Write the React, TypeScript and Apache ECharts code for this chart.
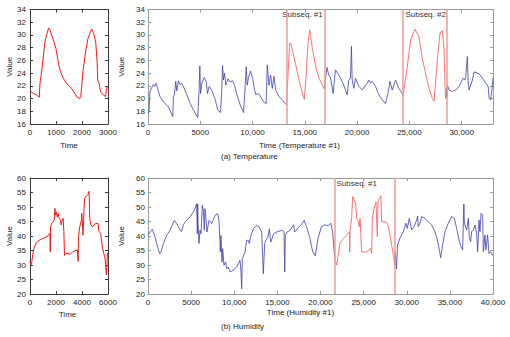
import React, { useEffect, useRef } from "react";
import * as echarts from "echarts";

type P = [number, number];

// ---- Temperature (a) ----
const tempSubseq: P[] = [
  [0, 21.2], [128, 20.8], [255, 20.55], [358, 20.2], [383, 22.4], [447, 24.2], [511, 26.6], [575, 28.9],
  [639, 30.0], [715, 31.1], [766, 30.8], [830, 30.0], [894, 29.3], [996, 27.9], [1085, 25.8], [1150, 24.5],
  [1277, 23.2], [1405, 22.4], [1596, 21.6], [1724, 20.8], [1813, 20.2], [1916, 20.0], [1954, 20.3],
  [2043, 24.5], [2145, 27.6], [2235, 29.5], [2324, 30.5], [2375, 30.9], [2452, 30.2], [2528, 28.9],
  [2580, 25.8], [2605, 22.9], [2656, 22.4], [2707, 21.2], [2758, 20.8], [2835, 20.55], [2912, 20.3],
  [2937, 21.6], [3000, 21.9],
];

const tempBlueA: P[] = [
  [0, 17.7], [100, 17.9], [190, 21.1], [350, 21.7], [510, 22.2], [610, 21.9], [770, 22.4], [930, 21.5],
  [1150, 20.3], [1470, 19.5], [1950, 18.7], [2370, 17.15],
  [2430, 20.3], [2530, 20.6], [2650, 22.7], [2750, 21.2], [2910, 22.8], [3070, 22.2], [3230, 22.4],
  [3390, 21.9], [3710, 20.6], [4030, 19.25], [4350, 18.2], [4760, 17.0],
  [4890, 21.6], [4960, 25.1], [5020, 20.8], [5150, 22.4], [5370, 23.3], [5560, 22.7], [5690, 20.8],
  [5850, 21.9], [6100, 21.3], [6430, 19.8], [6680, 18.2], [6940, 17.8],
  [7060, 21.6], [7130, 25.2], [7220, 22.9], [7320, 24.0], [7450, 22.1], [7640, 23.1], [7860, 22.6],
  [8090, 22.8], [8280, 22.1], [8500, 20.6], [8820, 19.0], [9140, 17.8],
  [9300, 22.1], [9400, 25.0], [9490, 22.1], [9620, 23.4], [9810, 24.3], [10000, 23.2], [10200, 21.3],
  [10320, 20.6], [10580, 20.8], [11060, 19.5], [11300, 19.2],
  [11410, 25.3], [11570, 22.1], [11730, 23.7], [11890, 21.6], [12050, 23.5], [12210, 21.35],
  [12530, 20.3], [12850, 19.8], [13170, 19.1], [13260, 19.0],
];

const tempRedA: P[] = [
  [13260, 19.2], [13400, 24.0], [13550, 28.7], [13680, 28.6], [13810, 27.6], [14130, 25.3], [14450, 22.9],
  [14770, 20.8], [14960, 19.9], [15150, 24.2], [15310, 28.9], [15470, 30.8], [15720, 27.9], [16040, 25.0],
  [16360, 23.2], [16680, 22.1], [16870, 21.5],
];

const tempBlueB: P[] = [
  [16870, 21.5], [16970, 23.2], [17130, 24.9], [17290, 23.6], [17450, 23.4], [17710, 20.8], [17930, 24.5],
  [18250, 23.7], [18570, 22.7], [18890, 21.35], [19050, 20.6], [19210, 22.9], [19370, 23.2], [19460, 28.2],
  [19530, 22.9], [19690, 21.6], [19850, 23.2], [20170, 21.9], [20490, 21.35], [20970, 22.4], [21130, 22.9],
  [21290, 22.4], [21450, 22.7], [21760, 21.9], [22080, 20.6], [22400, 19.8], [22720, 19.2], [22820, 20.0],
  [22950, 20.8], [23140, 22.7], [23360, 21.35], [23680, 22.9], [24000, 21.6], [24320, 20.8], [24380, 20.3],
];

const tempRedB: P[] = [
  [24390, 20.3], [24800, 25.0], [25120, 29.2], [25540, 30.9], [25920, 29.7], [26240, 26.3], [26560, 23.9],
  [26880, 21.6], [27200, 20.0], [27360, 19.6], [27680, 26.1], [27930, 30.3], [28160, 30.7], [28320, 27.6],
  [28410, 21.9], [28480, 20.0], [28540, 21.0],
];

const tempBlueC: P[] = [
  [28540, 21.6], [28580, 20.2], [28640, 22.1], [28800, 21.35], [29120, 21.1], [29440, 21.35], [29750, 21.9],
  [29910, 22.4], [30140, 23.2], [30300, 22.9], [30390, 23.4], [30550, 26.6], [30620, 22.9], [30710, 21.35],
  [31030, 22.9], [31190, 24.2], [31670, 23.9], [31990, 23.2], [32310, 22.4], [32540, 21.9], [32630, 20.0],
  [32790, 19.8], [32890, 21.35], [33000, 23.2],
];

const tempBounds: number[] = [13260, 16870, 24380, 28540];
const tempLabels: string[] = ["Subseq. #1", "Subseq. #2"];

// ---- Humidity (b) ----
const humSubseq: P[] = [
  [0, 31.2], [77, 30.1], [128, 30.6], [204, 33.5], [306, 35.8], [460, 37.5], [638, 38.3], [894, 39.0],
  [1150, 39.4], [1404, 40.1], [1532, 40.9], [1557, 34.6], [1583, 43.2], [1660, 44.3], [1787, 44.9],
  [1864, 45.5], [1915, 49.5], [1966, 47.2], [2042, 48.3], [2093, 46.6], [2170, 47.8], [2247, 46.1],
  [2349, 45.5], [2400, 43.8], [2476, 45.5], [2553, 46.1], [2604, 41.5], [2655, 33.3], [2808, 34.1],
  [3064, 33.7], [3268, 34.4], [3447, 34.9], [3651, 35.2], [3702, 31.2], [3727, 39.8], [3830, 43.2],
  [3957, 45.5], [3983, 47.8], [4085, 40.3], [4187, 52.9], [4340, 53.8], [4468, 54.3], [4545, 55.4],
  [4596, 46.1], [4672, 43.8], [4851, 43.2], [5030, 44.3], [5234, 44.3], [5310, 41.5], [5438, 40.9],
  [5540, 36.9], [5668, 34.1], [5770, 32.3], [5821, 30.1], [5872, 26.6], [5923, 30.1], [5948, 34.1],
  [6000, 33.5],
];

const humBlueA: P[] = [
  [0, 40.2], [230, 41.4], [500, 42.3], [810, 39.7], [1120, 36.2], [1350, 33.9], [1510, 34.5], [1780, 37.4],
  [2160, 40.2], [2550, 42.0], [3050, 45.4], [3320, 44.3], [3710, 42.0], [3900, 41.6], [4100, 43.9],
  [4370, 45.1], [4870, 46.6], [5370, 48.9], [5640, 51.1], [5720, 40.8], [5760, 51.1], [5800, 44.8],
  [5910, 37.4], [6030, 42.0], [6150, 40.8], [6300, 50.6], [6420, 48.9], [6530, 42.0], [6610, 49.4],
  [6720, 46.0], [6840, 41.4], [7070, 45.4], [7380, 44.3], [7770, 47.1], [8080, 47.7], [8230, 45.4],
  [8390, 34.5], [8460, 40.2], [8580, 31.0], [8660, 35.6], [8810, 29.9], [9000, 31.0], [9120, 28.7],
  [9310, 29.3], [9510, 27.6], [9890, 28.2], [10280, 29.3], [10670, 31.6], [10780, 27.6], [10860, 21.8],
  [10940, 32.2], [11250, 34.5], [11440, 38.5], [11630, 38.5], [11750, 37.4], [11940, 40.2], [12210, 42.5],
  [12600, 43.7], [12870, 43.1], [13180, 41.4], [13370, 27.0], [13530, 37.4], [13680, 38.5], [13910, 39.7],
  [14070, 42.5], [14220, 37.9], [14380, 39.1], [14570, 40.8], [14960, 41.4], [15540, 42.0], [15770, 41.4],
  [15850, 27.6], [15920, 40.2], [16120, 41.4], [16500, 42.0], [16700, 43.1], [16890, 43.9], [17000, 41.4],
  [17200, 42.0], [17470, 43.1], [17780, 43.9], [18100, 45.4], [18400, 43.0], [18750, 39.5], [19100, 34.5],
  [19400, 33.2], [19700, 39.0], [20100, 43.2], [20500, 43.8], [20900, 43.6], [21200, 44.4], [21400, 41.5],
  [21560, 35.7], [21650, 32.5],
];

const humRed: P[] = [
  [21650, 32.5], [21870, 30.0], [22260, 37.5], [22650, 39.2], [23030, 40.3], [23370, 41.5], [23385, 34.5],
  [23420, 41.5], [23610, 46.1], [23730, 53.6], [23920, 52.4], [24080, 51.3], [24190, 46.1], [24390, 44.9],
  [24500, 43.2], [24580, 46.1], [24690, 39.2], [24770, 34.6], [25160, 34.4], [25540, 34.8], [25820, 35.7],
  [25930, 34.0], [26010, 46.1], [26200, 49.5], [26430, 51.8], [26590, 39.8], [26670, 51.8], [26820, 53.0],
  [27010, 53.9], [27090, 44.9], [27480, 44.9], [27750, 44.4], [27980, 41.5], [28250, 36.9], [28440, 33.4],
  [28600, 30.0],
];

const humBlueB: P[] = [
  [28600, 30.0], [28680, 34.6], [28800, 28.7], [28940, 36.9], [29210, 39.2], [29600, 41.5], [29910, 44.4],
  [30060, 42.6], [30300, 46.1], [30570, 42.1], [30840, 43.2], [31150, 45.5], [31260, 46.9], [31340, 43.2],
  [31530, 44.4], [31730, 46.7], [32110, 46.1], [32500, 44.9], [32890, 43.8], [33270, 41.5], [33550, 38.6],
  [33780, 35.2], [33930, 32.5], [34160, 36.9], [34430, 41.5], [34820, 44.4], [35200, 46.7], [35510, 46.1],
  [35790, 42.6], [36060, 38.6], [36290, 36.3], [36480, 35.2], [36620, 51.0], [36680, 44.4], [36750, 43.8],
  [36950, 42.1], [37140, 46.1], [37260, 39.2], [37410, 38.0], [37530, 41.5], [37720, 42.1], [37910, 43.8],
  [38100, 41.0], [38220, 34.6], [38380, 45.5], [38490, 41.5], [38610, 47.8], [38800, 47.2], [38880, 34.6],
  [39070, 40.3], [39190, 35.2], [39380, 40.3], [39530, 34.0], [39720, 34.6], [39920, 33.4], [40000, 33.6],
];

const humBounds: number[] = [21650, 28600];
const humLabels: string[] = ["Subseq. #1"];

const captions: string[] = ["(a) Temperature", "(b) Humidity"];

const FONT = '"Liberation Sans", Arial, Helvetica, sans-serif';
const TXT = "#222";
const BLUE = "#3d3daa";
const RED_R = "#f06868";
const RED_L = "#f01a1a";
const SUB = "#f29a92";

const plainFmt = (v: number) => String(v);
const commaFmt = (v: number) => {
  if (v % 5000 !== 0) return "";
  return v >= 10000 ? v.toLocaleString("en-US") : String(v);
};

function tick(color: string) {
  return { show: true, inside: true, length: 3, lineStyle: { color, width: 1 } };
}

function xPair(gi: number, min: number, max: number, interval: number, color: string, fmt: any,
  name: string, nameGap: number, namePad: number[]) {
  const base = {
    type: "value", gridIndex: gi, min, max, interval, splitLine: { show: false },
    axisLine: { show: true, onZero: false, lineStyle: { color, width: 1 } }, axisTick: tick(color),
  };
  return [
    {
      ...base, position: "bottom",
      axisLabel: { show: true, margin: 4, color: TXT, fontSize: 8, fontFamily: FONT, formatter: fmt },
      name, nameLocation: "middle", nameGap,
      nameTextStyle: { color: TXT, fontSize: 8, fontFamily: FONT, padding: namePad },
    },
    { ...base, position: "top", axisLabel: { show: false } },
  ];
}

function yPair(gi: number, min: number, max: number, interval: number, color: string, nameGap: number, margin: number) {
  const base = {
    type: "value", gridIndex: gi, min, max, interval, splitLine: { show: false },
    axisLine: { show: true, onZero: false, lineStyle: { color, width: 1 } }, axisTick: tick(color),
  };
  return [
    {
      ...base, position: "left",
      axisLabel: { show: true, margin, color: TXT, fontSize: 8, fontFamily: FONT },
      name: "Value", nameLocation: "middle", nameGap,
      nameTextStyle: { color: TXT, fontSize: 8, fontFamily: FONT },
    },
    { ...base, position: "right", axisLabel: { show: false } },
  ];
}

function line(data: P[], color: string, width: number, gi: number, extra: any = {}) {
  return {
    type: "line", data, xAxisIndex: gi * 2, yAxisIndex: gi * 2, showSymbol: false, symbol: "none",
    lineStyle: { color, width }, silent: true, z: 3, ...extra,
  };
}

function subseqMarks(bounds: number[], labels: string[], offsets: number[]) {
  return {
    markLine: {
      silent: true, symbol: ["none", "none"], label: { show: false },
      lineStyle: { color: SUB, width: 1.5, type: "solid" },
      data: bounds.map((x) => ({ xAxis: x })),
    },
    markArea: {
      silent: true, itemStyle: { color: "rgba(0,0,0,0)" },
      label: { show: true, position: "insideTop", distance: 1, color: "#333", fontSize: 8, fontFamily: FONT },
      data: labels.map((name, i) => [
        { name, xAxis: bounds[i * 2], label: { offset: [offsets[i], 0] } },
        { xAxis: bounds[i * 2 + 1] },
      ]),
    },
  };
}

export default function App() {
  const ref = useRef<HTMLDivElement>(null);
  useEffect(() => {
    document.body.style.margin = "0";
    if (!ref.current) return;
    const chart = echarts.init(ref.current, undefined, { renderer: "svg" });
    const DARK = "#3a3a3a";
    const LIGHT = "#9a9a9a";
    const option: any = {
      animation: false,
      backgroundColor: "#fff",
      grid: [
        { left: 30, top: 9.5, width: 78, height: 114.5 },
        { left: 148, top: 9.5, width: 345, height: 114.5 },
        { left: 30, top: 178, width: 78, height: 116 },
        { left: 148, top: 178, width: 345, height: 116 },
      ],
      xAxis: [
        ...xPair(0, 0, 3000, 1000, DARK, plainFmt, "Time", 17, [0, 0, 0, 0]),
        ...xPair(1, 0, 33000, 5000, LIGHT, commaFmt, "Time (Temperature #1)", 17, [0, 42, 0, 0]),
        ...xPair(2, 0, 6000, 2000, DARK, plainFmt, "Time", 16, [0, 3, 0, 0]),
        ...xPair(3, 0, 40000, 5000, LIGHT, commaFmt, "Time (Humidity #1)", 14, [0, 40, 0, 0]),
      ],
      yAxis: [
        ...yPair(0, 16, 34, 2, DARK, 15, 4),
        ...yPair(1, 16, 34, 2, LIGHT, 16, 3),
        ...yPair(2, 20, 60, 5, DARK, 15, 4),
        ...yPair(3, 20, 60, 5, LIGHT, 15, 3),
      ],
      series: [
        line(tempSubseq, RED_L, 1, 0),
        line(tempBlueA, BLUE, 0.8, 1),
        line(tempRedA, RED_R, 0.9, 1, subseqMarks(tempBounds, tempLabels, [-3, 1])),
        line(tempBlueB, BLUE, 0.8, 1),
        line(tempRedB, RED_R, 0.9, 1),
        line(tempBlueC, BLUE, 0.8, 1),
        line(humSubseq, RED_L, 1, 2),
        line(humBlueA, BLUE, 0.8, 3),
        line(humRed, RED_R, 0.9, 3, subseqMarks(humBounds, humLabels, [-8])),
        line(humBlueB, BLUE, 0.8, 3),
      ],
      graphic: [
        { type: "text", left: 221, top: 152, style: { text: captions[0], fill: TXT, font: `8px ${FONT}` } },
        { type: "text", left: 221, top: 322, style: { text: captions[1], fill: TXT, font: `8px ${FONT}` } },
      ],
    };
    chart.setOption(option);
    return () => chart.dispose();
  }, []);
  return (
    <div
      ref={ref}
      style={{ position: "fixed", left: 0, top: 0, width: 510, height: 337, background: "#fff" }}
    />
  );
}
